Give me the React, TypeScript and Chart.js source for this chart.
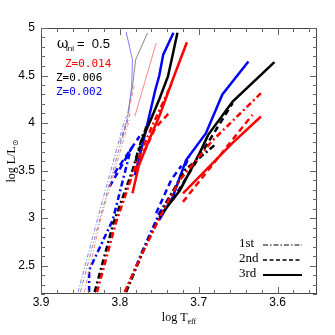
import React, { useEffect, useRef } from "react";
import { Chart, registerables } from "chart.js";
Chart.register(...registerables);

// ---- Axis settings ----
const xMin = 3.55, xMax = 3.9;
const yMin = 2.2, yMax = 5;
const xMajorTicks = [3.9, 3.8, 3.7, 3.6];
const yMajorTicks = [2.5, 3, 3.5, 4, 4.5, 5];

// ---- Thin (light) tracks ----
const thinBlue1 = [[3.853, 2.22], [3.828, 3.0], [3.794, 4.03], [3.789, 4.1]];
const thinGray1 = [[3.85, 2.22], [3.825, 3.0], [3.792, 4.0]];
const thinRed1 = [[3.845, 2.22], [3.824, 3.0], [3.788, 4.03]];
const thinBlue2 = [[3.8, 3.8], [3.79, 4.05]];
const thinGray2 = [[3.797, 3.85], [3.787, 4.1]];
const thinRed2 = [[3.796, 3.85], [3.781, 4.42]];
const thinBlue3 = [[3.789, 4.1], [3.785, 4.385], [3.784, 4.666], [3.792, 4.958]];
const thinGray3 = [[3.79, 4.1], [3.784, 4.385], [3.78, 4.666], [3.765, 4.947]];
const thinRed3 = [[3.781, 4.07], [3.754, 4.84]];

// ---- Middle thick tracks ----
const midBlue1 = [[3.839, 2.22], [3.839, 2.45], [3.809, 2.98], [3.786, 3.73]];
const midBlue2a = [[3.813, 3.33], [3.784, 3.75]];
const midBlue2b = [[3.807, 3.47], [3.775, 3.86]];
const midBlue3 = [[3.781, 3.45], [3.775, 3.65], [3.769, 3.85], [3.762, 4.1], [3.755, 4.35], [3.75, 4.5], [3.745, 4.72], [3.732, 4.95]];
const midBlack1 = [[3.832, 2.22], [3.808, 2.95], [3.784, 3.5], [3.77, 3.9]];
const midBlack2 = [[3.78, 3.6], [3.765, 4.0]];
const midBlack3 = [[3.772, 3.82], [3.76, 4.05], [3.75, 4.25], [3.739, 4.49], [3.734, 4.68], [3.727, 4.95]];
const midRed1 = [[3.829, 2.22], [3.805, 2.95], [3.78, 3.55], [3.76, 3.95], [3.734, 4.42]];
const midRed2 = [[3.78, 3.5], [3.755, 3.95], [3.736, 4.12]];
const midRed3 = [[3.784, 3.26], [3.776, 3.55], [3.763, 3.82], [3.75, 4.07], [3.733, 4.455], [3.715, 4.85]];

// ---- Right thick tracks ----
const rBlue1 = [[3.793, 2.22], [3.771, 2.66], [3.75, 3.05], [3.729, 3.33], [3.712, 3.65]];
const rBlue2 = [[3.754, 3.05], [3.735, 3.4], [3.722, 3.55]];
const rBlue3 = [[3.75, 2.98], [3.733, 3.22], [3.716, 3.61], [3.691, 3.89], [3.67, 4.3], [3.637, 4.648]];
const rBlack1 = [[3.792, 2.22], [3.77, 2.66], [3.745, 3.1], [3.718, 3.5], [3.678, 3.78]];
const rBlack2 = [[3.733, 3.19], [3.699, 3.65], [3.657, 4.21]];
const rBlack3 = [[3.75, 3.01], [3.724, 3.29], [3.699, 3.68], [3.688, 3.875], [3.657, 4.226], [3.604, 4.641]];
const rRed1 = [[3.794, 2.22], [3.772, 2.62], [3.745, 3.08], [3.724, 3.4], [3.682, 3.82], [3.621, 4.314]];
const rRed2 = [[3.72, 3.17], [3.632, 4.086]];
const rRed3 = [[3.72, 3.26], [3.691, 3.505], [3.657, 3.79], [3.621, 4.068]];

const legendLabels = ["1st", "2nd", "3rd"];
const zLabels = ["Z=0.014", "Z=0.006", "Z=0.002"];

const RED = "#ff0000", BLACK = "#000000", BLUE = "#0000ff";
const LRED = "#ff7878", LGRAY = "#7a7a7a", LBLUE = "#7070ff";

const DASHDOT_THICK = [6, 3, 2, 3];
const DASH_THICK = [6, 4];
const DASHDOT_THIN = [4, 2, 1, 2];
const DASH_THIN = [4, 3];
const THICK = 2.5;
const THIN = 0.9;

function ds(data: number[][], color: string, width: number, dash: number[]) {
  return {
    data: data.map(([x, y]) => ({ x, y })),
    borderColor: color,
    backgroundColor: color,
    borderWidth: width,
    borderDash: dash,
    showLine: true,
    pointRadius: 0,
    fill: false,
    tension: 0,
  };
}

const frame = {
  id: "frame",
  afterDatasetsDraw(chart: any) {
    const { ctx, chartArea: a, scales } = chart;
    const xs = scales.x, ys = scales.y;
    ctx.save();
    ctx.strokeStyle = "#444";
    ctx.lineWidth = 1;
    ctx.setLineDash([]);
    ctx.strokeRect(a.left + 0.5, a.top + 0.5, a.right - a.left - 1, a.bottom - a.top - 1);
    ctx.strokeStyle = "#666";
    for (let i = 0; i <= 17; i++) {
      const v = 3.56 + i * 0.02;
      const p = Math.round(xs.getPixelForValue(v)) + 0.5;
      const major = Math.abs(v * 10 - Math.round(v * 10)) < 1e-6;
      const len = major ? 7 : 4;
      ctx.beginPath();
      ctx.moveTo(p, a.bottom); ctx.lineTo(p, a.bottom - len);
      ctx.moveTo(p, a.top); ctx.lineTo(p, a.top + len);
      ctx.stroke();
    }
    for (let i = 0; i <= 28; i++) {
      const v = 2.2 + i * 0.1;
      const p = Math.round(ys.getPixelForValue(v)) + 0.5;
      const major = Math.abs(v * 2 - Math.round(v * 2)) < 1e-6;
      const len = major ? 7 : 4;
      ctx.beginPath();
      ctx.moveTo(a.left, p); ctx.lineTo(a.left + len, p);
      ctx.moveTo(a.right, p); ctx.lineTo(a.right - len, p);
      ctx.stroke();
    }
    ctx.fillStyle = "#000";
    ctx.font = "12px 'Liberation Sans', sans-serif";
    ctx.textAlign = "center";
    ctx.textBaseline = "middle";
    xMajorTicks.forEach((v) => ctx.fillText(String(v), xs.getPixelForValue(v), 303));
    ctx.textAlign = "right";
    yMajorTicks.forEach((v) => ctx.fillText(String(v), 35, ys.getPixelForValue(v)));

    ctx.textAlign = "left";
    ctx.textBaseline = "alphabetic";
    ctx.font = "12px 'Liberation Serif', serif";
    const t1 = "log T";
    const w1 = ctx.measureText(t1).width;
    ctx.font = "8px 'Liberation Serif', serif";
    const w2 = ctx.measureText("eff").width;
    const cx = (a.left + a.right) / 2;
    const sx = cx - (w1 + w2) / 2;
    ctx.font = "12px 'Liberation Serif', serif";
    ctx.fillText(t1, sx, 321);
    ctx.font = "8px 'Liberation Serif', serif";
    ctx.fillText("eff", sx + w1, 324);

    ctx.save();
    ctx.translate(15, (a.top + a.bottom) / 2);
    ctx.rotate(-Math.PI / 2);
    ctx.font = "12px 'Liberation Serif', serif";
    const y1 = "log L/L";
    const yw1 = ctx.measureText(y1).width;
    ctx.font = "8px 'DejaVu Sans', sans-serif";
    const yw2 = ctx.measureText("\u2299").width;
    const ysx = -(yw1 + yw2) / 2;
    ctx.font = "12px 'Liberation Serif', serif";
    ctx.fillText(y1, ysx, 0);
    ctx.font = "8px 'DejaVu Sans', sans-serif";
    ctx.fillText("\u2299", ysx + yw1, 3);
    ctx.restore();

    ctx.font = "14px 'DejaVu Serif', serif";
    ctx.fillText("\u03c9", 57, 48);
    ctx.font = "8px 'Liberation Sans', sans-serif";
    ctx.fillText("ini", 66, 51);
    ctx.font = "13px 'Liberation Sans', sans-serif";
    ctx.fillText("=  0.5", 77, 48);
    const zColors = [RED, BLACK, BLUE];
    const zX = [65, 56, 56];
    const zY = [67, 81, 95];
    ctx.font = "11px 'DejaVu Sans Mono', monospace";
    zLabels.forEach((t, i) => {
      ctx.fillStyle = zColors[i];
      ctx.fillText(t, zX[i], zY[i]);
    });

    ctx.fillStyle = "#000";
    ctx.font = "13px 'Liberation Serif', serif";
    const ly = [244, 259, 274];
    const dashes = [[5, 2, 1.5, 2], [4, 2.5], []];
    const lw = [1.2, 1.5, 2];
    legendLabels.forEach((t, i) => {
      ctx.textBaseline = "middle";
      ctx.fillText(t, 239, ly[i]);
      ctx.beginPath();
      ctx.setLineDash(dashes[i]);
      ctx.lineWidth = lw[i];
      ctx.strokeStyle = "#000";
      ctx.moveTo(263, ly[i] + 1);
      ctx.lineTo(302, ly[i] + 1);
      ctx.stroke();
    });
    ctx.restore();
  },
};

export default function App() {
  const ref = useRef<HTMLCanvasElement>(null);
  useEffect(() => {
    if (!ref.current) return;
    const datasets = [
      ds(thinBlue1, LBLUE, THIN, DASHDOT_THIN),
      ds(thinGray1, LGRAY, THIN, DASHDOT_THIN),
      ds(thinRed1, LRED, THIN, DASHDOT_THIN),
      ds(thinBlue2, LBLUE, THIN, DASH_THIN),
      ds(thinGray2, LGRAY, THIN, DASH_THIN),
      ds(thinRed2, LRED, THIN, DASH_THIN),
      ds(thinBlue3, LBLUE, THIN, []),
      ds(thinGray3, LGRAY, THIN, []),
      ds(thinRed3, LRED, THIN, []),
      ds(midRed1, RED, THICK, DASHDOT_THICK),
      ds(midBlack1, BLACK, THICK, DASHDOT_THICK),
      ds(midBlue1, BLUE, THICK, DASHDOT_THICK),
      ds(midRed2, RED, THICK, DASH_THICK),
      ds(midBlack2, BLACK, THICK, DASH_THICK),
      ds(midBlue2a, BLUE, THICK, DASH_THICK),
      ds(midBlue2b, BLUE, THICK, DASH_THICK),
      ds(midRed3, RED, THICK, []),
      ds(midBlack3, BLACK, THICK, []),
      ds(midBlue3, BLUE, THICK, []),
      ds(rRed1, RED, THICK, DASHDOT_THICK),
      ds(rBlack1, BLACK, THICK, DASHDOT_THICK),
      ds(rBlue1, BLUE, THICK, DASHDOT_THICK),
      ds(rRed2, RED, THICK, DASH_THICK),
      ds(rBlack2, BLACK, THICK, DASH_THICK),
      ds(rBlue2, BLUE, THICK, DASH_THICK),
      ds(rRed3, RED, THICK, []),
      ds(rBlack3, BLACK, THICK, []),
      ds(rBlue3, BLUE, THICK, []),
    ];
    const chart = new Chart(ref.current, {
      type: "scatter",
      data: { datasets: datasets as any },
      options: {
        animation: false,
        responsive: false,
        devicePixelRatio: 1,
        layout: { padding: { left: 41, right: 18, top: 28, bottom: 41 } },
        plugins: { legend: { display: false }, tooltip: { enabled: false } },
        scales: {
          x: { type: "linear", min: xMin, max: xMax, reverse: true, display: false },
          y: { type: "linear", min: yMin, max: yMax, display: false },
        },
      },
      plugins: [frame],
    });
    return () => chart.destroy();
  }, []);
  return (
    <div style={{ position: "fixed", left: 0, top: 0, width: 335, height: 335, background: "#fff" }}>
      <canvas ref={ref} width={335} height={335} />
    </div>
  );
}
